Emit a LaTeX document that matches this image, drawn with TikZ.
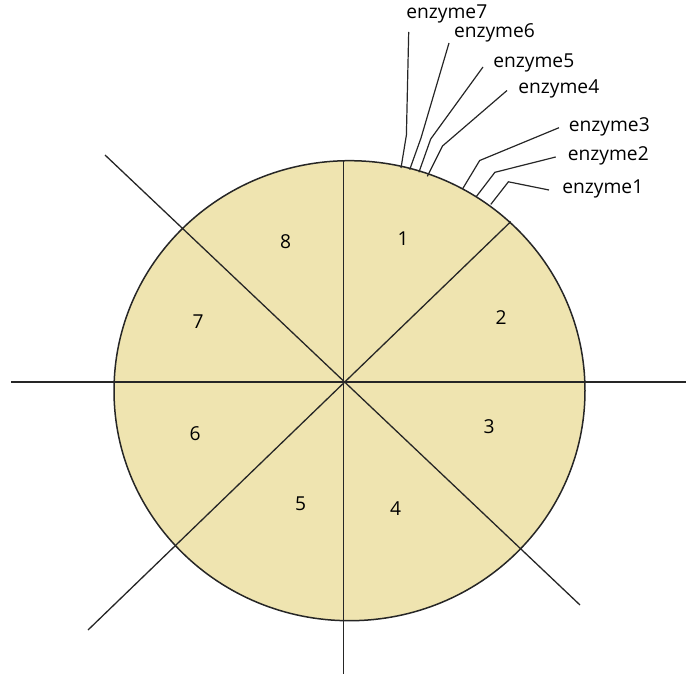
\documentclass[tikz,border=0pt]{standalone}
\usepackage{fontspec}
\setmainfont{Open Sans}
\usetikzlibrary{positioning}
\definecolor{paintan}{RGB}{239,228,176}

\begin{document}
\begin{tikzpicture}[x=0.5pt, y=-0.5pt,
					cut/.style={draw=black!85, line width=0.65pt},
					lead/.style={draw=black!85, line width=0.6pt},
					num/.style={inner sep=0pt, font=\fontsize{9.6}{11}\selectfont},
					enz/.style={inner sep=0pt, anchor=west, font=\fontsize{9.6}{11}\selectfont}
					]
					\useasboundingbox (0,0) rectangle (686,674);
					
					\filldraw [fill=paintan, draw=black!85, line width=0.75pt] (349.5,390.7) ellipse [x radius=117.75pt, y radius=115pt];
					
					\coordinate (l) at (11,382);
					\coordinate (r) at (686,382);
					\coordinate (t) at (343.5,160.8);
					\coordinate (b) at (343.5,674);
					\coordinate (tl) at (105,155);
					\coordinate (br) at (580,605);
					\coordinate (bl) at (88,630);
					\coordinate (tr) at (510.7,221.7);
					
					\draw [cut] (l) -- (r);
					\draw [cut] (t) -- (b);
					\draw [cut] (tl) -- (br);
					\draw [cut] (bl) -- (tr);
					
					\node (n1) [num] at (403,238.6) {1};
					\node (n2) [num] at (501,318) {2};
					\node (n3) [num] at (489,426.5) {3};
					\node (n4) [num] at (395.5,509) {4};
					\node (n5) [num] at (300.6,504) {5};
					\node (n6) [num] at (195,434) {6};
					\node (n7) [num] at (198,322) {7};
					\node (n8) [num] at (285.5,242) {8};
					
					\node (e7) [enz] at (406,14) {enzyme7};
					\node (e6) [enz] at (453.6,32.8) {enzyme6};
					\node (e5) [enz] at (493,62.5) {enzyme5};
					\node (e4) [enz] at (518,88.5) {enzyme4};
					\node (e3) [enz] at (568.5,126.7) {enzyme3};
					\node (e2) [enz] at (567.5,156) {enzyme2};
					\node (e1) [enz] at (562,189) {enzyme1};
					
					% leader ends: p = by the label, c = on the rim
					\coordinate (p7) at (408.7,32);   \coordinate (c7) at (401,168);
					\coordinate (p6) at (449,43);     \coordinate (c6) at (409.7,169.6);
					\coordinate (p5) at (483,67);     \coordinate (c5) at (418.9,172.3);
					\coordinate (p4) at (507,90.5);   \coordinate (c4) at (427.3,176.4);
					\coordinate (p3) at (559,127.7);  \coordinate (c3) at (462.8,188.5);
					\coordinate (p2) at (555.7,157);  \coordinate (c2) at (476.3,196.6);
					\coordinate (p1) at (549,190);    \coordinate (c1) at (490.8,204.4);
					
					\draw [lead] (p7) -- (406.4,135) -- (c7);
					\draw [lead] (p6) -- (421,138) -- (c6);
					\draw [lead] (p5) -- (430.7,139) -- (c5);
					\draw [lead] (p4) -- (442.5,146) -- (c4);
					\draw [lead] (p3) -- (479.7,160.5) -- (c3);
					\draw [lead] (p2) -- (494.9,172.3) -- (c2);
					\draw [lead] (p1) -- (508.4,181.8) -- (c1);
				\end{tikzpicture}
\end{document}
